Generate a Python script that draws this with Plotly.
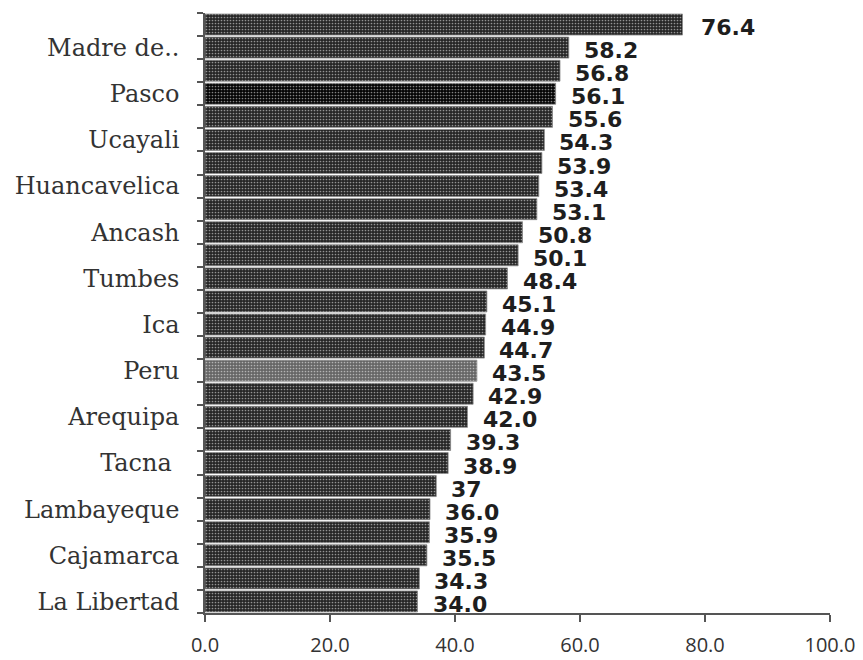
import plotly.graph_objects as go

# Row labels (only every other row is labelled in the original chart)
labels = ["", "Madre de..", "", "Pasco", "", "Ucayali", "", "Huancavelica", "",
          "Ancash", "", "Tumbes", "", "Ica", "", "Peru", "", "Arequipa", "",
          "Tacna ", "", "Lambayeque", "", "Cajamarca", "", "La Libertad"]
values = [76.4, 58.2, 56.8, 56.1, 55.6, 54.3, 53.9, 53.4, 53.1, 50.8, 50.1,
          48.4, 45.1, 44.9, 44.7, 43.5, 42.9, 42.0, 39.3, 38.9, 37, 36.0,
          35.9, 35.5, 34.3, 34.0]
x_ticks = [0, 20, 40, 60, 80, 100]
x_tick_text = ["0.0", "20.0", "40.0", "60.0", "80.0", "100.0"]

highlight = {"Pasco": "#050505", "Peru": "#666666"}
base_color = "#262626"

n = len(values)
ypos = list(range(n))
colors = [highlight.get(l.strip(), base_color) for l in labels]
texts = [f"{v:.1f}" if isinstance(v, float) else str(v) for v in values]

fig = go.Figure()
fig.add_trace(go.Bar(
    x=values, y=ypos, orientation="h",
    marker=dict(color=colors,
                line=dict(color="#8a8a8a", width=0.8),
                pattern=dict(shape=".", fgcolor="#3a3a3a", size=3, solidity=0.25)),
    hoverinfo="skip",
))

for v, y, t in zip(values, ypos, texts):
    fig.add_annotation(x=v, y=y, text=f"<b>{t}</b>", showarrow=False, xanchor="left",
                       xshift=13 if v < 70 else 16, yshift=-3,
                       font=dict(family="DejaVu Sans", size=22, color="#1e1e1e"))

tick_idx = [i for i, l in enumerate(labels) if l]
fig.update_layout(
    width=855, height=652,
    margin=dict(l=197, r=33, t=5, b=47),
    paper_bgcolor="white", plot_bgcolor="white",
    bargap=0.09, showlegend=False,
    xaxis=dict(range=[0, 100], tickvals=x_ticks, ticktext=x_tick_text,
               automargin=False,
               showgrid=False, zeroline=False, showline=True,
               linecolor="#555555", linewidth=1.5,
               ticks="outside", ticklen=7, tickcolor="#555555", tickwidth=1.5,
               ticklabelstandoff=6,
               tickfont=dict(family="Open Sans", size=20, color="#333333")),
    yaxis=dict(range=[n - 0.5, -0.5], tickvals=tick_idx,
               ticktext=[labels[i] for i in tick_idx],
               automargin=False,
               showgrid=False, zeroline=False, showline=True,
               linecolor="#555555", linewidth=1.5,
               ticks="outside", ticklen=0, ticklabelstandoff=19,
               minor=dict(tickmode="linear", tick0=0.5, dtick=1, ticks="outside",
                          ticklen=6, tickcolor="#555555", tickwidth=1.5),
               tickfont=dict(family="DejaVu Serif", size=24, color="#333333")),
)

fig.write_html("out.html")
